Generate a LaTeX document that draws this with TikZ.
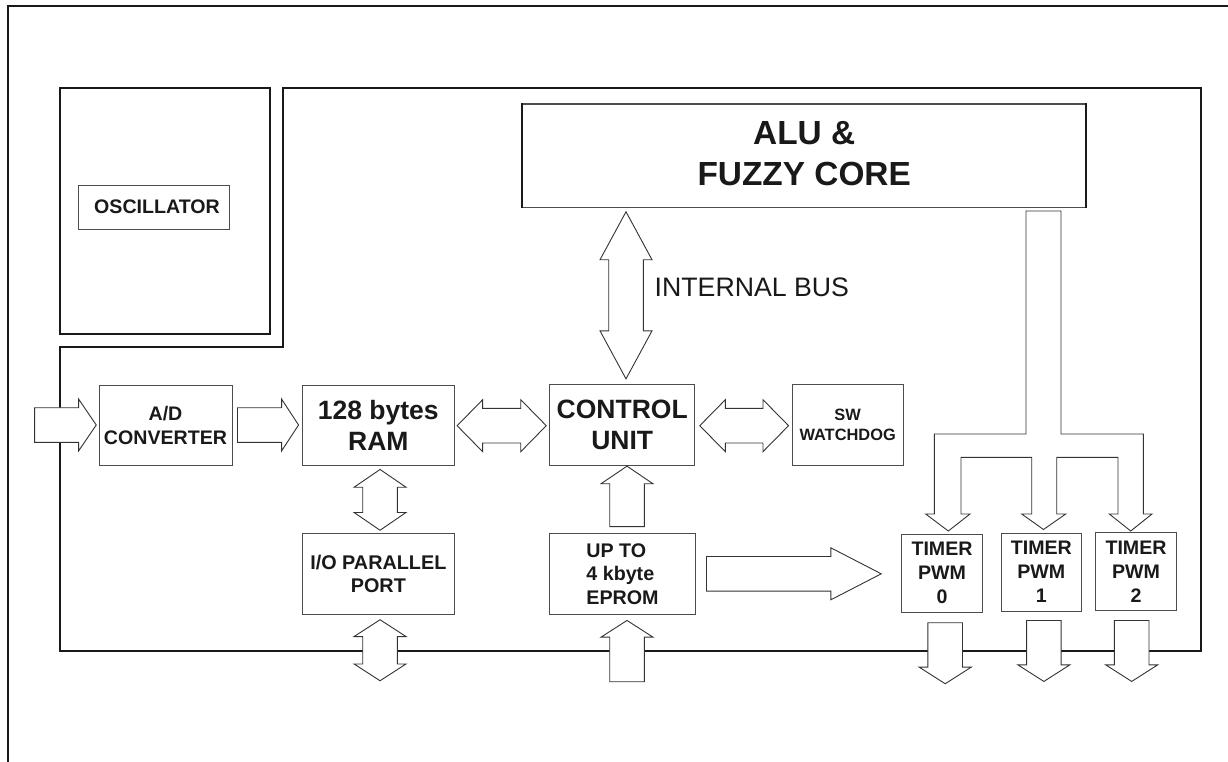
\documentclass[tikz,border=0pt]{standalone}
\usepackage{fontspec}
\setmainfont{Liberation Sans}
\usetikzlibrary{calc}

\newcommand\fsz[2]{\fontsize{#1}{#2}\selectfont}
\def\shafthalf{17.3pt}
\def\headhalf{26pt}

\tikzset{
  blk/.style={draw=black!70, line width=0.9pt, rectangle, inner sep=0pt, align=center, text=black!90},
  busarrow/.style={draw=black!80, line width=0.9pt, fill=white, line join=miter},
  heavy/.style={draw=black!90, line width=1.9pt},
  txtA/.style={font=\bfseries\fsz{19.6}{24}},
  txtB/.style={font=\bfseries\fsz{26.5}{31}},
}

% single hollow bus arrow: tail #2, tip #3, head length #1
\newcommand\barrow[3][17]{%
  \coordinate (ba-t) at #2;
  \coordinate (ba-h) at #3;
  \coordinate (ba-b) at ($(ba-h)!#1pt!(ba-t)$);
  \draw[busarrow] ($(ba-t)!\shafthalf!90:(ba-h)$) -- ($(ba-b)!\shafthalf!90:(ba-h)$)
    -- ($(ba-b)!\headhalf!90:(ba-h)$) -- (ba-h) -- ($(ba-b)!\headhalf!-90:(ba-h)$)
    -- ($(ba-b)!\shafthalf!-90:(ba-h)$) -- ($(ba-t)!\shafthalf!-90:(ba-h)$) -- cycle;}

% double-headed hollow bus arrow between tips #2 and #3, head length #1
\newcommand\dbarrow[3][17]{%
  \coordinate (ba-a) at #2;
  \coordinate (ba-h) at #3;
  \coordinate (ba-b1) at ($(ba-a)!#1pt!(ba-h)$);
  \coordinate (ba-b2) at ($(ba-h)!#1pt!(ba-a)$);
  \draw[busarrow] (ba-a) -- ($(ba-b1)!\headhalf!90:(ba-h)$) -- ($(ba-b1)!\shafthalf!90:(ba-h)$)
    -- ($(ba-b2)!\shafthalf!90:(ba-h)$) -- ($(ba-b2)!\headhalf!90:(ba-h)$) -- (ba-h)
    -- ($(ba-b2)!\headhalf!-90:(ba-h)$) -- ($(ba-b2)!\shafthalf!-90:(ba-h)$)
    -- ($(ba-b1)!\shafthalf!-90:(ba-h)$) -- ($(ba-b1)!\headhalf!-90:(ba-h)$) -- cycle;}

\begin{document}
\begin{tikzpicture}[x=1pt,y=-1pt]
\useasboundingbox (0,0) rectangle (1228,762);

% page frame
\draw[black!90, line width=2.3pt] (8,762) -- (8,6) -- (1228,6);

% oscillator area and chip area
\draw[heavy] (60,88) rectangle (270,334);
\draw[heavy, line width=1.7pt] (283,88) -- (1201,88) -- (1201,651) -- (60,651)
  -- (60,347) -- (283,347) -- cycle;

% blocks
\node[blk, txtA, minimum width=151pt, minimum height=44pt] (osc) at (153.5,207) {\hspace*{7pt}OSCILLATOR};
\node[blk, line width=1.1pt, minimum width=563pt, minimum height=103.5pt, text depth=4pt,
      font=\bfseries\fsz{33.4}{41}] (alu) at (804.2,155.75) {ALU \&\\FUZZY CORE};
% heavier side edges of the core block
\draw[black!90, line width=1.8pt] (alu.north west) -- (alu.south west)
  (alu.north east) -- (alu.south east);
\node[blk, txtA, minimum width=133pt, minimum height=80pt] (ad) at (165.5,425) {A/D\\CONVERTER};
\node[blk, txtB, minimum width=151.3pt, minimum height=80pt] (ram) at (378.35,425) {128 bytes\\RAM};
\node[blk, txtB, minimum width=145pt, minimum height=81pt] (cu) at (622.2,424.8) {CONTROL\\UNIT};
\node[blk, font=\bfseries\fsz{16.4}{20}, minimum width=111.3pt, minimum height=81pt] (sw) at (847.65,424.5) {SW\\WATCHDOG};
\node[blk, font=\bfseries\fsz{19.8}{23.7}, minimum width=151.3pt, minimum height=80.6pt] (io) at (378.35,574) {I/O PARALLEL\\PORT};
\node[blk, align=left, font=\bfseries\fsz{19.7}{23.5}, minimum width=145.6pt, minimum height=81pt] (ep) at (622.5,573.8) {UP TO\\4 kbyte\\EPROM};
\node[blk, txtA, minimum width=80.6pt, minimum height=78pt] (t0) at (942,573) {TIMER\\PWM\\0};
\node[blk, txtA, minimum width=80.7pt, minimum height=78pt] (t1) at (1041.35,572) {TIMER\\PWM\\1};
\node[blk, txtA, minimum width=80.6pt, minimum height=78pt] (t2) at (1136,571.3) {TIMER\\PWM\\2};

% bus label
\node[anchor=west, inner sep=0pt, font=\fsz{26.7}{30}, text=black!90] (buslbl) at (654.5,287.7) {INTERNAL BUS};

% free ends of the external buses
\coordinate (adin) at ($(ad.west)+(-64,0)$);
\coordinate (ioext) at ($(io.south)+(1.7,66)$);
\coordinate (epin) at ($(ep.south)+(4.5,67)$);
\coordinate (t0out) at ($(t0.south)+(3.2,71.3)$);
\coordinate (t1out) at ($(t1.south)+(2.5,70)$);
\coordinate (t2out) at ($(t2.south)+(-4.3,70.7)$);

% buses between blocks
\barrow[17.7]{(adin)}{($(ad.west)+(-2.3,0)$)}
\barrow[17]{($(ad.east)+(5,0)$)}{($(ad.east -| ram.west)+(-3.7,0)$)}
\dbarrow[25.5]{($(ram.east)+(2.7,0.7)$)}{($(ram.east -| cu.west)+(-3,0.7)$)}
\dbarrow[25.6]{($(cu.east)+(4.6,0.9)$)}{($(cu.east -| sw.west)+(-3,0.9)$)}
\dbarrow[17.8]{($(ram.south)+(1.7,4)$)}{($(ram.south |- io.north)+(1.7,-3)$)}
\dbarrow[16.8]{($(io.south)+(1.7,5)$)}{(ioext)}
\barrow[17.6]{($(ep.north)+(4.5,-6.3)$)}{($(ep.north |- cu.south)+(4.5,0.4)$)}
\barrow[16.7]{(epin)}{($(ep.south)+(4.5,5.7)$)}
\barrow[50.4]{($(ep.east)+(10.7,0)$)}{($(ep.east -| t0.west)+(-20,0)$)}
\dbarrow[48]{($(alu.south -| cu.north)+(3.8,3.7)$)}{($(cu.north)+(3.8,-5)$)}
\barrow[16.6]{($(t0.south)+(3.2,10.3)$)}{(t0out)}
\barrow[16.6]{($(t1.south)+(2.5,9)$)}{(t1out)}
\barrow[16.6]{($(t2.south)+(-4.3,9.7)$)}{(t2out)}

% fan-out bus from the core to the three timers
\draw[busarrow] (1026,211) -- (1026,434) -- (934.3,434) -- (934.3,514) -- (925.7,514)
  -- (948.3,531) -- (970,514) -- (961,514) -- (961,457.3) -- (1031.7,457.3)
  -- (1031.7,514) -- (1021.7,514) -- (1043.5,529.5) -- (1065.7,514) -- (1056.7,514)
  -- (1056.7,457.3) -- (1118,457.3) -- (1118,514) -- (1109.3,514) -- (1130.7,531)
  -- (1152,514) -- (1143.3,514) -- (1143.3,434) -- (1061,434) -- (1061,211) -- cycle;
\end{tikzpicture}
\end{document}
